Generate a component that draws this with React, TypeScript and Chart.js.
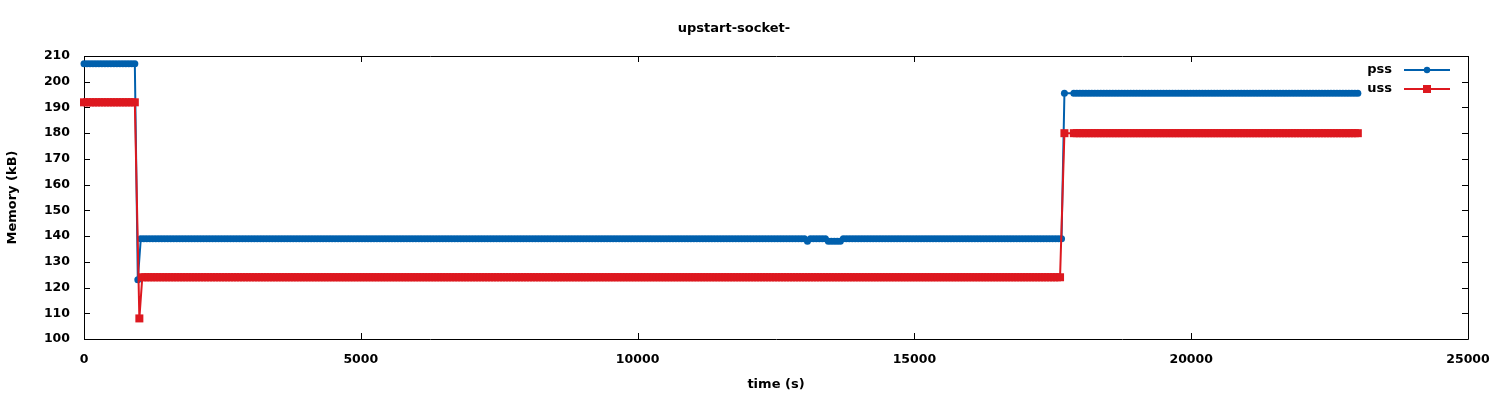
import React, { useEffect, useRef } from "react";
import { Chart, registerables } from "chart.js";

Chart.register(...registerables);

// ---- data ----
const chartTitle = "upstart-socket-";
const xAxisTitle = "time (s)";
const yAxisTitle = "Memory (kB)";
const seriesNames = ["pss", "uss"];
const seriesColors = ["#0060ad", "#dd181f"];

// sampling interval of the measurements (s)
const sampleStep = 54;

// runs of constant readings: [first sample time, last sample time, value (kB)]
const pssRuns: number[][] = [
  [0, 918, 207],
  [972, 972, 123],
  [1026, 13014, 139],
  [13068, 13068, 138],
  [13122, 13392, 139],
  [13446, 13662, 138],
  [13716, 17658, 139],
  [17710, 17710, 195.5],
  [17880, 23010, 195.5],
];

const ussRuns: number[][] = [
  [0, 918, 192],
  [1000, 1000, 108],
  [1053, 17658, 124],
  [17710, 17710, 180],
  [17880, 23010, 180],
];

const xMin = 0;
const xMax = 25000;
const xStep = 5000;
const yMin = 100;
const yMax = 210;
const yStep = 10;

function runsToPoints(runs: number[][]) {
  const pts: { x: number; y: number }[] = [];
  for (const [from, to, value] of runs) {
    for (let t = from; t <= to; t += sampleStep) pts.push({ x: t, y: value });
  }
  return pts;
}

const FONT = "'DejaVu Sans', sans-serif";
const TICK_FONT = { family: FONT, size: 12.5, weight: "bold" as const };
const TITLE_FONT = { family: FONT, size: 13, weight: "bold" as const };

const framePlugin = {
  id: "gnuplotFrame",
  beforeDatasetsDraw(chart: any) {
    const { ctx, chartArea } = chart;
    const { left, right, top, bottom } = chartArea;
    const xs = chart.scales.x;
    const ys = chart.scales.y;
    const tl = 6;
    ctx.save();
    ctx.strokeStyle = "#000";
    ctx.lineWidth = 1;
    ctx.beginPath();
    ctx.rect(Math.round(left) + 0.5, Math.round(top) + 0.5, Math.round(right - left), Math.round(bottom - top));
    for (const tk of xs.ticks) {
      const px = Math.round(xs.getPixelForValue(tk.value)) + 0.5;
      ctx.moveTo(px, bottom);
      ctx.lineTo(px, bottom - tl);
      ctx.moveTo(px, top);
      ctx.lineTo(px, top + tl);
    }
    for (const tk of ys.ticks) {
      const py = Math.round(ys.getPixelForValue(tk.value)) + 0.5;
      ctx.moveTo(left, py);
      ctx.lineTo(left + tl, py);
      ctx.moveTo(right, py);
      ctx.lineTo(right - tl, py);
    }
    ctx.stroke();
    ctx.restore();
  },
};

const legendPlugin = {
  id: "gnuplotLegend",
  afterDraw(chart: any) {
    const { ctx, chartArea } = chart;
    const textRight = chartArea.right - 76;
    const lineStart = chartArea.right - 64;
    const lineEnd = chartArea.right - 18;
    const rowY = [chartArea.top + 14, chartArea.top + 33];
    ctx.save();
    chart.data.datasets.forEach((ds: any, i: number) => {
      const y = rowY[i];
      ctx.fillStyle = "#000";
      ctx.font = `bold 13px ${FONT}`;
      ctx.textAlign = "right";
      ctx.textBaseline = "middle";
      ctx.fillText(ds.label, textRight, y);
      ctx.strokeStyle = ds.borderColor;
      ctx.lineWidth = 2;
      ctx.beginPath();
      ctx.moveTo(lineStart, y);
      ctx.lineTo(lineEnd, y);
      ctx.stroke();
      const cx = (lineStart + lineEnd) / 2;
      ctx.fillStyle = ds.borderColor;
      if (ds.pointStyle === "rect") {
        ctx.fillRect(cx - 4, y - 4, 8, 8);
      } else {
        ctx.beginPath();
        ctx.arc(cx, y, 3.2, 0, Math.PI * 2);
        ctx.fill();
      }
    });
    ctx.restore();
  },
};

export default function App() {
  const canvasRef = useRef<HTMLCanvasElement | null>(null);

  useEffect(() => {
    document.body.style.margin = "0";
    const canvas = canvasRef.current;
    if (!canvas) return;
    const chart = new Chart(canvas, {
      type: "line",
      data: {
        datasets: [
          {
            label: seriesNames[0],
            data: runsToPoints(pssRuns),
            borderColor: seriesColors[0],
            backgroundColor: seriesColors[0],
            borderWidth: 2,
            pointStyle: "circle",
            pointRadius: 3.5,
            pointBorderWidth: 0,
            pointBackgroundColor: seriesColors[0],
            tension: 0,
            clip: false,
            order: 1,
          } as any,
          {
            label: seriesNames[1],
            data: runsToPoints(ussRuns),
            borderColor: seriesColors[1],
            backgroundColor: seriesColors[1],
            borderWidth: 2,
            pointStyle: "rect",
            pointRadius: 5.66,
            pointBorderWidth: 0,
            pointBackgroundColor: seriesColors[1],
            tension: 0,
            clip: false,
            order: 0,
          } as any,
        ],
      },
      options: {
        animation: false,
        responsive: false,
        events: [],
        layout: { padding: { left: 0, right: 32, top: 0, bottom: 0 } },
        plugins: {
          legend: { display: false },
          tooltip: { enabled: false },
          title: {
            display: true,
            text: chartTitle,
            color: "#000",
            font: TITLE_FONT,
            padding: { top: 21, bottom: 19.4 },
          },
        },
        scales: {
          x: {
            type: "linear",
            min: xMin,
            max: xMax,
            ticks: {
              stepSize: xStep,
              color: "#000",
              font: TICK_FONT,
              padding: 13,
              maxRotation: 0,
              callback: (v: any) => String(v),
            },
            grid: { display: false, drawTicks: false },
            border: { display: false },
            title: {
              display: true,
              text: xAxisTitle,
              color: "#000",
              font: TITLE_FONT,
              padding: { top: 0, bottom: 7.2 },
            },
            afterFit: (scale: any) => {
              scale.height = 61;
              scale.paddingLeft = 0;
              scale.paddingRight = 0;
            },
          },
          y: {
            type: "linear",
            min: yMin,
            max: yMax,
            ticks: {
              stepSize: yStep,
              color: "#000",
              font: TICK_FONT,
              padding: 14,
              callback: (v: any) => String(v),
            },
            grid: { display: false, drawTicks: false },
            border: { display: false },
            title: {
              display: true,
              text: yAxisTitle,
              color: "#000",
              font: TITLE_FONT,
              padding: { top: 5.2, bottom: 0 },
            },
            afterFit: (scale: any) => {
              scale.width = 84;
              scale.paddingTop = 0;
              scale.paddingBottom = 0;
            },
          },
        },
      },
      plugins: [framePlugin, legendPlugin],
    });
    return () => chart.destroy();
  }, []);

  return (
    <div style={{ position: "absolute", left: 0, top: 0, width: 1500, height: 400, background: "#fff" }}>
      <canvas ref={canvasRef} width={1500} height={400} style={{ display: "block" }} />
    </div>
  );
}
